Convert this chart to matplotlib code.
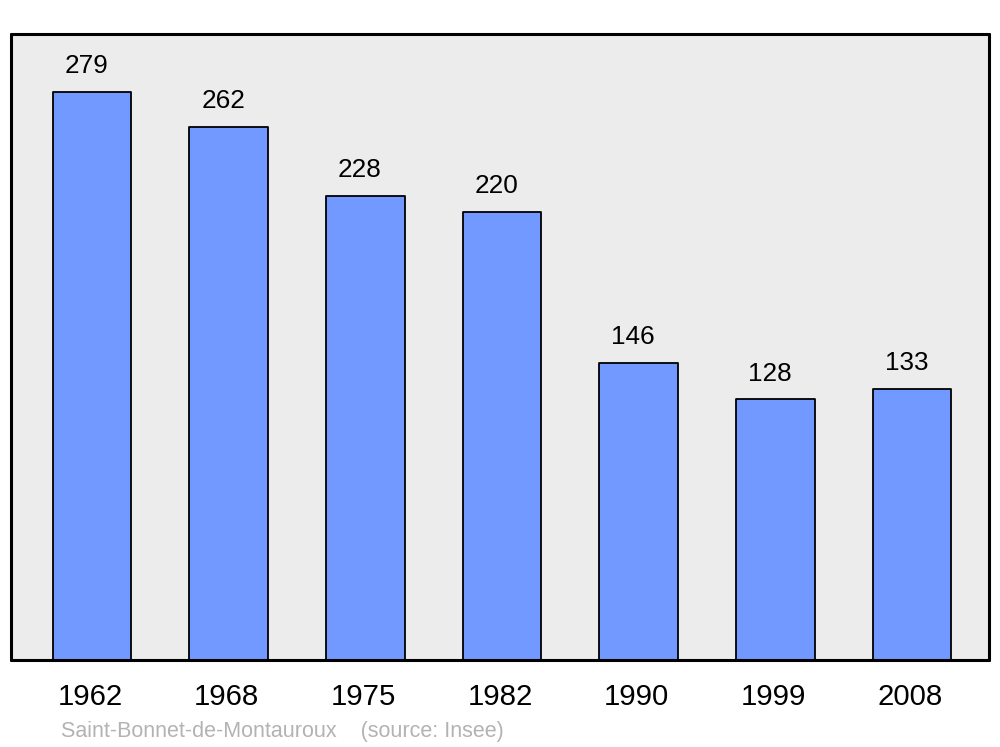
import matplotlib.pyplot as plt
from matplotlib.transforms import ScaledTranslation

years = ['1962', '1968', '1975', '1982', '1990', '1999', '2008']
population = [279, 262, 228, 220, 146, 128, 133]

plt.rcParams['font.family'] = ['Liberation Sans', 'DejaVu Sans']

fig = plt.figure(figsize=(10, 7.47), dpi=100)
ax = fig.add_axes([0.011, 1 - 660 / 747, 0.978, 626 / 747])
ax.set_facecolor('#ececec')

x = list(range(len(years)))
bars = ax.bar(x, population, width=0.575, color='#7299ff', edgecolor='black',
              linewidth=1.3, zorder=2)
for b in bars:
    b.set_joinstyle('round')

for xi, v in zip(x, population):
    ax.annotate(str(v), (xi, v), xytext=(-4, 10), textcoords='offset points',
                ha='center', va='bottom', fontsize=18.8)

ax.set_xlim(-0.593, 6.563)
ax.set_ylim(0, 307.5)
ax.set_xticks(x)
ax.set_xticklabels(years, fontsize=21.2)
ax.tick_params(axis='x', length=0, pad=16.5)
# nudge year labels a little to the left
shift = ScaledTranslation(-2 / 100, 0, fig.dpi_scale_trans)
for lbl in ax.get_xticklabels():
    lbl.set_transform(lbl.get_transform() + shift)
ax.set_yticks([])
for s in ax.spines.values():
    s.set_linewidth(2.2)
    s.set_capstyle('round')

fig.text(0.061, 1 - 732 / 747, 'Saint-Bonnet-de-Montauroux    (source: Insee)',
         fontsize=15.5, color='#b3b3b3', va='center', ha='left')

fig.savefig('out.png', dpi=100)
